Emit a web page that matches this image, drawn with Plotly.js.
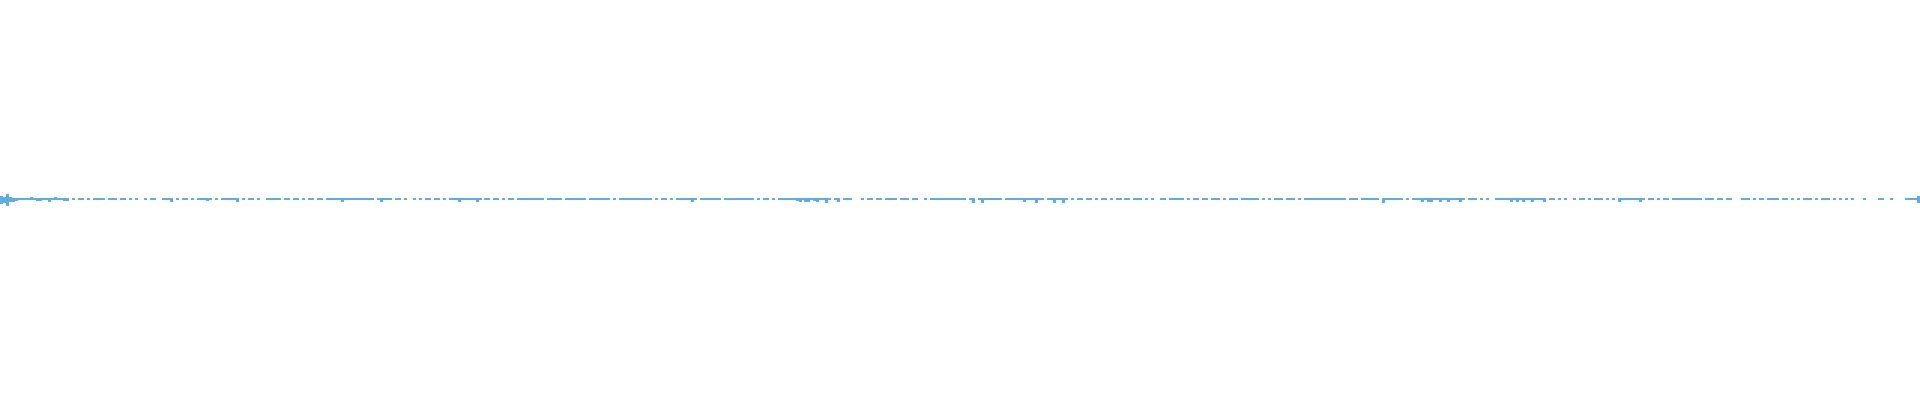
<!DOCTYPE html>
<html>
<head>
<meta charset="utf-8">
<script src="https://cdn.plot.ly/plotly-3.0.1.min.js"></script>
<style>
  html, body { margin: 0; padding: 0; background: #fff; }
  #chart { width: 1920px; height: 400px; }
</style>
</head>
<body>
<div id="chart"></div>
<script>
// waveform amplitude per sample, above centre
var wave1 = [2,1.5,3,1.5,1,1,1,1,1,1, 1.5,1,1,1,1,1,1,1,1.5,1, 1,1,1,0,1,0,1,1,0,1,
  0,1,1,1,1,0,1,1,1,0, 1,1,0,1,0,1,0,0,1,0, 1,1,0,0,1,1,1,1,0,1,
  0,1,1,0,1,0,1,1,1,1, 1,0,1,0,1,1,1,1,1,1, 0,1,0,1,1,0,1,0,0,1,
  1,1,1,1,0,1,1,0,1,1, 0,1,0,1,1,0,1];
var wave2 = [1,0,1,1,1,1,1,1,1,1, 1,1,1,1,1,1,1,1,0,1, 1,1,1,1,0,1,1,0,1,0,
  0,1,0,1,0,1,1,0,1,1, 0,1,0,1,1,1,1,1,1,1, 1,1,1,1,0,1,1,0,1,1,
  0,1,0,1,1,0,1,1,1,1, 1,1,1,1,1,0,1,1,1,1, 1,0,1,1,1,1,1,1,1,0,
  1,1,1,1,1,1,1,0,1,0, 1,1,1,1,1,1,1];
var wave3 = [1,1,1,1,0,1,0,1,1,0, 1,0,1,1,1,1,1,1,1,0, 1,1,1,1,1,1,1,0,1,1,
  1,1,1,1,1,1,1,1,0,1, 0,1,1,0,1,0,1,1,1,1, 1,1,1,1,1,1,1,1,1,1,
  1,1,1,1,0,1,1,0,1,1, 1,0,0,0,1,0,1,1,0,1, 1,0,1,1,1,1,0,1,1,1,
  0,1,1,0,0,1,0,1,1,1, 1,1,1,1,1,1,1];
var wave4 = [1,1,0,1,1,0,1,1,1,1, 1,1,1,1,0,1,1,1,1,1, 1,1,1,1,1,1,1,1,0,1,
  1,1,1,1,1,1,0,1,0,1, 1,0,1,1,0,1,0,1,1,0, 1,0,1,1,0,1,1,0,1,1,
  1,0,1,0,1,0,0,1,1,0, 1,1,1,1,1,0,1,0,1,1, 0,1,1,0,1,1,1,0,1,0,
  1,1,1,0,1,1,1,1,1,1, 0,1,0,1,0,1,1];
var wave5 = [1,0,1,1,1,0,1,0,1,1, 1,1,1,1,1,1,1,1,1,1, 1,1,0,1,1,1,0,1,1,1,
  1,1,1,0,1,1,1,1,1,1, 1,0,1,0,1,1,1,1,1,1, 1,1,1,1,1,1,1,1,1,1,
  1,1,0,1,1,1,0,1,0,1, 0,0,1,1,1,1,1,1,1,1, 1,1,1,1,1,1,1,1,1,0,
  1,1,0,1,0,1,0,0,1,0, 1,1,0,1,0,1,1];
var wave6 = [1,0,1,0,1,0,1,1,1,1, 1,1,1,1,1,0,1,1,0,1, 0,1,1,0,1,1,1,1,1,1,
  1,1,1,1,0,1,1,1,0,1, 1,0,1,1,0,0,0,1,1,1, 0,1,0,1,1,0,1,1,1,1,
  0,1,1,0,1,0,1,0,1,1, 1,0,1,0,1,1,1,0,1,0, 1,0,1,0,1,0,0,0,1,0,
  0,0,0,1,1,0,0,1,0,0, 0,0,1,1,1,1,2];

// downward excursions: sample index and depth below centre
var dipIdx = [0,1,2,3,4,5,12,13,16,21,22,57,69,79,
  114,127,153,159,
  231,266,267,269,270,272,273,276,280,
  325,328,342,346,352,355,
  462,475,477,478,481,484,488,505,507,509,512,516,
  541,548,641];
var dipDepth = [2,1.5,3,1,1,0.5,0.5,0.5,1,0.5,0.5,1,0.5,1,
  1,1,1,1,
  1,0.5,1,1,1,0.5,1,1.5,1,
  1.5,1.5,1,1.5,1.5,1.5,
  1.5,1,1,1,1,1,1,1,1,1,1,1,
  1,1,1.5];

(function() {
  'use strict';
  var color = '#5DADE2';

  var upper = wave1.concat(wave2, wave3, wave4, wave5, wave6);
  var xs = upper.map(function(v, i) { return i; });
  var lower = dipDepth.map(function(d) { return -d; });

  var data = [
    {
      type: 'bar', x: xs, y: upper,
      marker: { color: color, line: { width: 0 } },
      hoverinfo: 'skip'
    },
    {
      type: 'bar', x: dipIdx, y: lower,
      marker: { color: color, line: { width: 0 } },
      hoverinfo: 'skip'
    }
  ];

  var layout = {
    width: 1920, height: 400,
    paper_bgcolor: '#fff',
    plot_bgcolor: '#fff',
    margin: { l: 0, r: 0, t: 0, b: 0 },
    showlegend: false,
    barmode: 'overlay',
    bargap: 0,
    xaxis: { visible: false, range: [-0.5, upper.length - 0.5] },
    yaxis: { visible: false, range: [-100, 100] }
  };

  Plotly.newPlot('chart', data, layout, { displayModeBar: false, staticPlot: true });
})();
</script>
</body>
</html>
